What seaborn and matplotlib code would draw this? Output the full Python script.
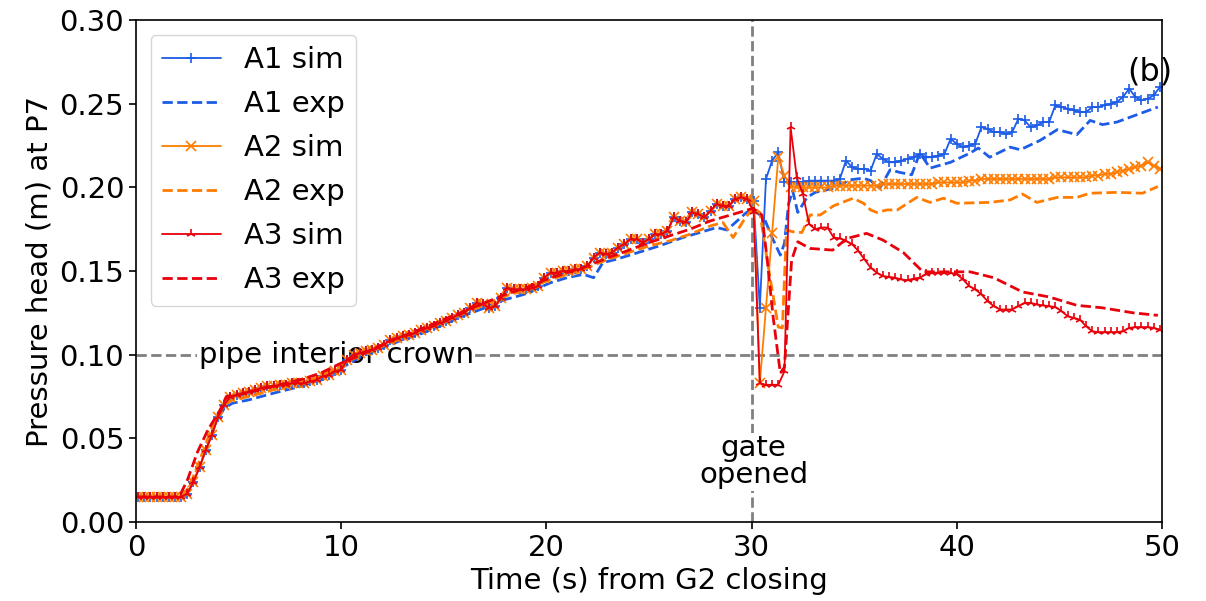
import numpy as np
import matplotlib
matplotlib.use("Agg")
import matplotlib.pyplot as plt
import seaborn as sns

# ---------------------------------------------------------------
# Pressure head at P7 (m) versus time since G2 closing (s)
# Simulated series are sampled every 0.3 s starting at 0.1 s.
# ---------------------------------------------------------------
SIM_T0, SIM_DT = 0.1, 0.3

# all three simulations coincide before the gate is opened (0.1 .. 29.8 s)
sim_before_gate = [
    0.015, 0.015, 0.015, 0.015, 0.015, 0.015, 0.015, 0.015, 0.017, 0.024,
    0.033, 0.043, 0.052, 0.063, 0.070, 0.075, 0.076, 0.077, 0.078, 0.079,
    0.080, 0.081, 0.081, 0.082, 0.082, 0.083, 0.083, 0.083, 0.084, 0.085,
    0.087, 0.088, 0.090, 0.091, 0.097, 0.100, 0.101, 0.102, 0.103, 0.104,
    0.106, 0.109, 0.110, 0.111, 0.112, 0.113, 0.115, 0.116, 0.117, 0.119,
    0.120, 0.122, 0.124, 0.125, 0.128, 0.131, 0.130, 0.128, 0.129, 0.134,
    0.140, 0.139, 0.139, 0.139, 0.140, 0.141, 0.146, 0.149, 0.149, 0.150,
    0.150, 0.151, 0.151, 0.153, 0.158, 0.161, 0.160, 0.161, 0.164, 0.166,
    0.169, 0.169, 0.167, 0.169, 0.172, 0.172, 0.174, 0.182, 0.180, 0.179,
    0.185, 0.184, 0.182, 0.186, 0.190, 0.189, 0.189, 0.193, 0.194, 0.193,
]

# after the gate is opened (30.1 .. 49.9 s)
a1_sim_after = [
    0.192, 0.128, 0.205, 0.216, 0.221, 0.203, 0.203, 0.203, 0.203, 0.204,
    0.204, 0.204, 0.204, 0.204, 0.205, 0.216, 0.212, 0.211, 0.211, 0.210,
    0.220, 0.217, 0.215, 0.215, 0.216, 0.217, 0.218, 0.220, 0.218, 0.218,
    0.219, 0.220, 0.229, 0.226, 0.224, 0.225, 0.226, 0.236, 0.235, 0.233,
    0.233, 0.232, 0.233, 0.241, 0.240, 0.236, 0.237, 0.239, 0.239, 0.249,
    0.248, 0.247, 0.246, 0.245, 0.245, 0.248, 0.248, 0.249, 0.250, 0.251,
    0.254, 0.259, 0.254, 0.252, 0.253, 0.255, 0.260,
]
a2_sim_after = [
    0.192, 0.083, 0.128, 0.173, 0.218, 0.207, 0.2005, 0.200, 0.200, 0.200,
    0.200, 0.200, 0.200, 0.201, 0.201, 0.201, 0.201, 0.201, 0.201, 0.201,
    0.201, 0.202, 0.202, 0.202, 0.202, 0.202, 0.202, 0.202, 0.202, 0.202,
    0.203, 0.203, 0.203, 0.203, 0.203, 0.204, 0.204, 0.205, 0.205, 0.205,
    0.205, 0.205, 0.205, 0.205, 0.205, 0.205, 0.205, 0.205, 0.205, 0.206,
    0.206, 0.206, 0.206, 0.206, 0.206, 0.207, 0.207, 0.208, 0.208, 0.209,
    0.210, 0.211, 0.212, 0.213, 0.215, 0.213, 0.211,
]
a3_sim_after = [
    0.185, 0.083, 0.082, 0.082, 0.082, 0.090, 0.236, 0.206, 0.196, 0.178,
    0.175, 0.176, 0.176, 0.170, 0.1695, 0.168, 0.166, 0.162, 0.157, 0.152,
    0.149, 0.147, 0.1465, 0.146, 0.145, 0.1445, 0.1455, 0.146, 0.148, 0.149,
    0.149, 0.149, 0.149, 0.148, 0.145, 0.141, 0.139, 0.136, 0.132, 0.129,
    0.127, 0.127, 0.127, 0.129, 0.131, 0.131, 0.130, 0.1295, 0.129, 0.1285,
    0.126, 0.123, 0.122, 0.121, 0.117, 0.114, 0.1135, 0.1135, 0.1135, 0.1135,
    0.114, 0.116, 0.1165, 0.1165, 0.1165, 0.116, 0.115,
]

# measured series (time s, head m)
a1_exp_t = [0.1, 2.2, 2.6, 3.2, 3.8, 4.3, 4.7, 5.5, 6.7, 8.0, 9.0, 10.0, 11.0,
            12.0, 13.0, 14.0, 15.0, 15.8, 17.0, 18.0, 18.9, 20.2, 21.0, 21.8,
            22.3, 22.75, 23.4, 24.2, 25.5, 26.65, 28.3, 28.8, 29.3, 29.75, 30.1,
            30.65, 31.0, 31.4, 31.6, 31.8, 32.0, 32.25, 32.7, 33.1, 34.0, 34.8,
            35.45, 35.8, 36.25, 36.75, 37.2, 37.8, 38.2, 38.7, 39.7, 40.65,
            41.05, 41.6, 42.6, 43.1, 44.05, 44.9, 45.85, 46.5, 47.1, 47.8,
            48.8, 49.8]
a1_exp_h = [0.015, 0.015, 0.020, 0.037, 0.058, 0.068, 0.071, 0.073, 0.077,
            0.081, 0.085, 0.092, 0.099, 0.104, 0.109, 0.113, 0.118, 0.1225,
            0.128, 0.133, 0.136, 0.143, 0.146, 0.148, 0.146, 0.155, 0.157,
            0.160, 0.165, 0.170, 0.176, 0.1745, 0.180, 0.185, 0.187, 0.1805,
            0.170, 0.1595, 0.1665, 0.190, 0.198, 0.185, 0.194, 0.197, 0.1995,
            0.2045, 0.2055, 0.204, 0.1995, 0.2105, 0.209, 0.2075, 0.2205,
            0.2115, 0.215, 0.2205, 0.2235, 0.218, 0.224, 0.2225, 0.228,
            0.2345, 0.2315, 0.240, 0.2375, 0.239, 0.2435, 0.248]

a2_exp_t = [0.1, 2.2, 2.6, 3.2, 3.8, 4.3, 4.7, 5.5, 6.7, 8.0, 9.0, 10.0, 11.0,
            12.0, 13.0, 14.0, 15.0, 16.0, 17.0, 18.0, 19.0, 20.0, 21.0, 22.0,
            23.0, 24.0, 25.0, 26.0, 27.0, 28.0, 28.6, 29.1, 29.6, 30.07, 30.4,
            30.8, 31.3, 31.5, 31.7, 32.0, 32.45, 32.85, 33.35, 34.0, 34.95,
            35.45, 35.8, 36.1, 36.6, 37.1, 38.05, 38.7, 39.35, 40.0, 41.6,
            42.6, 43.2, 43.9, 44.9, 45.85, 46.5, 47.8, 49.05, 49.8]
a2_exp_h = [0.015, 0.015, 0.021, 0.040, 0.060, 0.070, 0.073, 0.075, 0.079,
            0.083, 0.087, 0.094, 0.100, 0.105, 0.110, 0.115, 0.120, 0.125,
            0.130, 0.135, 0.139, 0.144, 0.148, 0.152, 0.157, 0.161, 0.165,
            0.168, 0.172, 0.177, 0.179, 0.170, 0.180, 0.188, 0.185, 0.1535,
            0.1165, 0.116, 0.1745, 0.1735, 0.173, 0.1835, 0.1835, 0.189,
            0.1935, 0.1905, 0.1865, 0.185, 0.1865, 0.1865, 0.194, 0.191,
            0.1935, 0.1905, 0.191, 0.1925, 0.196, 0.191, 0.194, 0.194,
            0.1965, 0.197, 0.1965, 0.2005]

a3_exp_t = [0.1, 2.1, 2.5, 3.0, 3.5, 4.1, 4.4, 5.0, 6.0, 7.0, 8.0, 9.0, 10.0,
            11.0, 12.0, 13.0, 14.0, 15.0, 16.0, 17.0, 18.0, 19.0, 20.0, 21.0,
            22.0, 23.0, 23.7, 25.0, 26.0, 27.0, 28.0, 29.4, 30.07, 30.5, 30.75,
            31.05, 31.4, 31.6, 31.95, 32.25, 32.85, 33.95, 34.65, 35.3, 35.6,
            36.4, 37.4, 38.35, 39.65, 40.65, 41.8, 43.2, 44.5, 45.85, 47.1,
            48.6, 49.8]
a3_exp_h = [0.015, 0.015, 0.025, 0.042, 0.055, 0.067, 0.075, 0.076, 0.079,
            0.082, 0.085, 0.089, 0.095, 0.100, 0.106, 0.111, 0.116, 0.121,
            0.126, 0.131, 0.136, 0.140, 0.145, 0.149, 0.153, 0.158, 0.161,
            0.167, 0.171, 0.175, 0.180, 0.185, 0.1875, 0.1835, 0.158, 0.1225,
            0.089, 0.0925, 0.1565, 0.1675, 0.1635, 0.1625, 0.1695, 0.1715,
            0.1725, 0.1685, 0.161, 0.1495, 0.1495, 0.1495, 0.146, 0.1375,
            0.1345, 0.1295, 0.128, 0.125, 0.1235]

CROWN_LEVEL = 0.10   # pipe interior crown (m)
GATE_TIME = 30.0     # gate opened (s)

BLUE, ORANGE, RED = "#1c5ce6", "#ff7c00", "#e8000b"

# ---------------------------------------------------------------
sns.set_style("ticks")
plt.rcParams["font.family"] = ["DejaVu Sans"]
plt.rcParams["font.size"] = 21
for key in ("text.color", "axes.labelcolor", "xtick.color", "ytick.color",
            "axes.edgecolor"):
    plt.rcParams[key] = "black"

a1_sim = np.array(sim_before_gate + a1_sim_after)
a2_sim = np.array(sim_before_gate + a2_sim_after)
a3_sim = np.array(sim_before_gate + a3_sim_after)
sim_t = np.round(SIM_T0 + SIM_DT * np.arange(len(a1_sim)), 2)

fig, ax = plt.subplots(figsize=(12.06, 6.01), dpi=100)
fig.subplots_adjust(left=0.1128, right=0.9635, top=0.9667, bottom=0.1314)

ax.axhline(CROWN_LEVEL, color="gray", lw=2, ls="--", zorder=1)
ax.axvline(GATE_TIME, color="gray", lw=2, ls="--", zorder=1)


def sim_line(t, h, color, marker, label):
    sns.lineplot(x=t, y=h, color=color, marker=marker, markersize=6.5,
                 markeredgewidth=1.2, markeredgecolor=color,
                 markerfacecolor=color, lw=1.3, label=label, ax=ax)


def exp_line(t, h, color, label):
    sns.lineplot(x=t, y=h, color=color, lw=2.0, linestyle="--",
                 label=label, ax=ax)


sim_line(sim_t, a1_sim, BLUE, "+", "A1 sim")
exp_line(a1_exp_t, a1_exp_h, BLUE, "A1 exp")
sim_line(sim_t, a2_sim, ORANGE, "x", "A2 sim")
exp_line(a2_exp_t, a2_exp_h, ORANGE, "A2 exp")
sim_line(sim_t, a3_sim, RED, "2", "A3 sim")
exp_line(a3_exp_t, a3_exp_h, RED, "A3 exp")

ax.text(9.75, CROWN_LEVEL, "pipe interior crown", ha="center", va="center",
        fontsize=21, zorder=1.5,
        bbox=dict(facecolor="white", edgecolor="none", pad=1))
ax.text(30.1, 0.036, "gate\nopened", ha="center", va="center", fontsize=21,
        linespacing=0.95, zorder=1.5,
        bbox=dict(facecolor="white", edgecolor="none", pad=1))
ax.text(0.988, 0.896, "(b)", transform=ax.transAxes, ha="center", va="center",
        fontsize=23)

ax.set_xlim(0, 50)
ax.set_ylim(0, 0.30)
ax.set_xticks([0, 10, 20, 30, 40, 50])
ax.set_yticks([0.00, 0.05, 0.10, 0.15, 0.20, 0.25, 0.30])
ax.set_yticklabels(["0.00", "0.05", "0.10", "0.15", "0.20", "0.25", "0.30"])
ax.tick_params(labelsize=21, length=5, width=1.2, colors="black")
for sp in ax.spines.values():
    sp.set_color("black")
    sp.set_linewidth(1.2)

ax.set_xlabel("Time (s) from G2 closing", fontsize=21)
ax.set_ylabel("Pressure head (m) at P7", fontsize=21)

ax.legend(loc="upper left", fontsize=21, labelspacing=0.55, handlelength=2.0)

fig.savefig("out.png", dpi=100)
